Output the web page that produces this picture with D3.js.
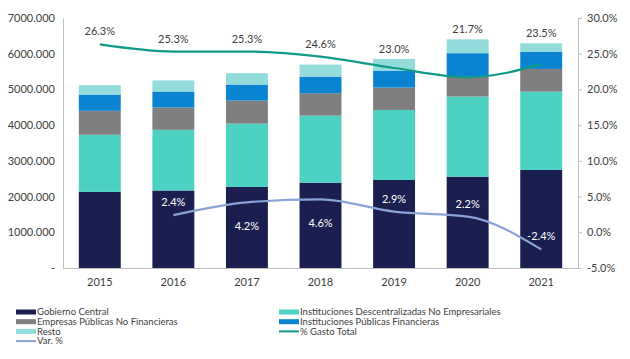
<!DOCTYPE html>
<html>
<head>
<meta charset="utf-8">
<script src="https://cdn.jsdelivr.net/npm/d3@7"></script>
<style>
  body { margin: 0; background: #fff; }
  svg text { font-family: "Lato", "Open Sans", sans-serif; }
</style>
</head>
<body>
<svg id="chart"></svg>
<script>
const years = ["2015", "2016", "2017", "2018", "2019", "2020", "2021"]
const gobiernoCentral = [2130, 2170, 2270, 2390, 2465, 2557, 2745]
const institucionesDesc = [1600, 1700, 1773, 1877, 1961, 2243, 2193]
const empresasPublicas = [670, 624, 644, 627, 625, 570, 636]
const institucionesFin = [456, 448, 449, 466, 476, 645, 485]
const resto = [264, 309, 318, 336, 327, 388, 234]
const gastoTotal = [26.3, 25.3, 25.3, 24.6, 23.0, 21.7, 23.5]
const varPct = [null, 2.4, 4.2, 4.6, 2.9, 2.2, -2.4]
const leftTicks = [0, 1000, 2000, 3000, 4000, 5000, 6000, 7000]
const rightTicks = [-5, 0, 5, 10, 15, 20, 25, 30]

const seriesNames = ["Gobierno Central", "Instituciones Descentralizadas No Empresariales",
  "Empresas Públicas No Financieras", "Instituciones Públicas Financieras", "Resto"]
const seriesColors = ["#1b1f4f", "#4dd1c3", "#7f7f7f", "#0a84d0", "#93dcdc"]

const width = 630, height = 359
const margin = { top: 18, right: 52, bottom: 91, left: 63 }

const svg = d3.select('#chart')
  .attr('width', width)
  .attr('height', height)

const rows = years.map((y, i) => ({
  year: y,
  s0: gobiernoCentral[i], s1: institucionesDesc[i], s2: empresasPublicas[i],
  s3: institucionesFin[i], s4: resto[i]
}))
const keys = ["s0", "s1", "s2", "s3", "s4"]
const stacked = d3.stack().keys(keys)(rows)
const totals = rows.map(r => keys.reduce((s, k) => s + r[k], 0))

const x = d3.scaleBand()
  .domain(years)
  .range([margin.left, width - margin.right])
  .paddingInner(0.43)
  .paddingOuter(0.215)

const y = d3.scaleLinear()
  .domain([0, 7000])
  .range([height - margin.bottom, margin.top])

const y2 = d3.scaleLinear()
  .domain([-5, 30])
  .range([height - margin.bottom, margin.top])

// axes
const axisColor = "#bfbfbf"
const textColor = "#404040"

const leftAxis = svg.append("g")
  .attr("transform", `translate(${margin.left},0)`)
  .call(d3.axisLeft(y).tickValues(leftTicks).tickSize(0).tickPadding(8)
    .tickFormat(d => d === 0 ? "-" : d + ".000"))
leftAxis.select(".domain").attr("stroke", axisColor)
leftAxis.selectAll("text").attr("fill", textColor).style("font-size", "11px")

const rightAxis = svg.append("g")
  .attr("transform", `translate(${width - margin.right},0)`)
  .call(d3.axisRight(y2).tickValues(rightTicks).tickSize(4).tickPadding(5)
    .tickFormat(d => d.toFixed(1) + "%"))
rightAxis.select(".domain").attr("stroke", axisColor)
rightAxis.selectAll("line").attr("stroke", axisColor)
rightAxis.selectAll("text").attr("fill", textColor).style("font-size", "11px")

const bottomAxis = svg.append("g")
  .attr("transform", `translate(0,${height - margin.bottom})`)
  .call(d3.axisBottom(x).tickSize(0).tickPadding(10))
bottomAxis.select(".domain").attr("stroke", axisColor)
bottomAxis.selectAll("text").attr("fill", textColor).style("font-size", "11px")

// bars
svg.append("g")
  .selectAll("g")
  .data(stacked)
  .enter().append("g")
  .attr("fill", (d, i) => seriesColors[i])
  .selectAll("rect")
  .data(d => d)
  .enter().append("rect")
  .attr("x", d => x(d.data.year))
  .attr("y", d => y(d[1]))
  .attr("width", x.bandwidth())
  .attr("height", d => y(d[0]) - y(d[1]))

// lines
const cx = yr => x(yr) + x.bandwidth() / 2

const gastoLine = d3.line()
  .x((d, i) => cx(years[i]))
  .y(d => y2(d))
  .curve(d3.curveMonotoneX)

svg.append("path")
  .datum(gastoTotal)
  .attr("fill", "none")
  .attr("stroke", "#0e9a86")
  .attr("stroke-width", 2.2)
  .attr("d", gastoLine)

const varLine = d3.line()
  .defined(d => d !== null)
  .x((d, i) => cx(years[i]))
  .y(d => y2(d))
  .curve(d3.curveMonotoneX)

svg.append("path")
  .datum(varPct)
  .attr("fill", "none")
  .attr("stroke", "#8aa3d6")
  .attr("stroke-width", 2.2)
  .attr("d", varLine)

// labels: % gasto sits above the line or the bar top, whichever is higher
svg.append("g")
  .selectAll("text")
  .data(gastoTotal)
  .enter().append("text")
  .attr("x", (d, i) => cx(years[i]))
  .attr("y", (d, i) => Math.min(y2(d) - 9, y(totals[i]) - 6))
  .attr("text-anchor", "middle")
  .attr("fill", textColor)
  .style("font-size", "11px")
  .text(d => d.toFixed(1) + "%")

// var % labels: above or below point
const varBelow = [false, false, true, true, false, false, false]
svg.append("g")
  .selectAll("text")
  .data(varPct.map((v, i) => ({ v, i })).filter(d => d.v !== null))
  .enter().append("text")
  .attr("x", d => cx(years[d.i]))
  .attr("y", d => varBelow[d.i] ? y2(d.v) + 28 : y2(d.v) - 9)
  .attr("text-anchor", "middle")
  .attr("fill", "#ffffff")
  .style("font-size", "11px")
  .text(d => d.v.toFixed(1) + "%")

// legend
const legendItems = [
  { name: seriesNames[0], color: seriesColors[0], type: "bar", col: 0, row: 0 },
  { name: seriesNames[1], color: seriesColors[1], type: "bar", col: 1, row: 0 },
  { name: seriesNames[2], color: seriesColors[2], type: "bar", col: 0, row: 1 },
  { name: seriesNames[3], color: seriesColors[3], type: "bar", col: 1, row: 1 },
  { name: seriesNames[4], color: seriesColors[4], type: "bar", col: 0, row: 2 },
  { name: "% Gasto Total", color: "#0e9a86", type: "line", col: 1, row: 2 },
  { name: "Var. %", color: "#8aa3d6", type: "line", col: 0, row: 3 }
]

const legend = svg.append("g")
  .selectAll("g")
  .data(legendItems)
  .enter().append("g")
  .attr("transform", d => `translate(${d.col === 0 ? 16 : 279},${312 + d.row * 9.7})`)

legend.append("rect")
  .attr("x", 0)
  .attr("y", d => d.type === "bar" ? -2.5 : -1)
  .attr("width", 20)
  .attr("height", d => d.type === "bar" ? 5 : 2)
  .attr("fill", d => d.color)

legend.append("text")
  .attr("x", 21)
  .attr("y", 0)
  .attr("dy", "0.35em")
  .attr("fill", textColor)
  .style("font-size", "9.5px")
  .text(d => d.name)
</script>
</body>
</html>
